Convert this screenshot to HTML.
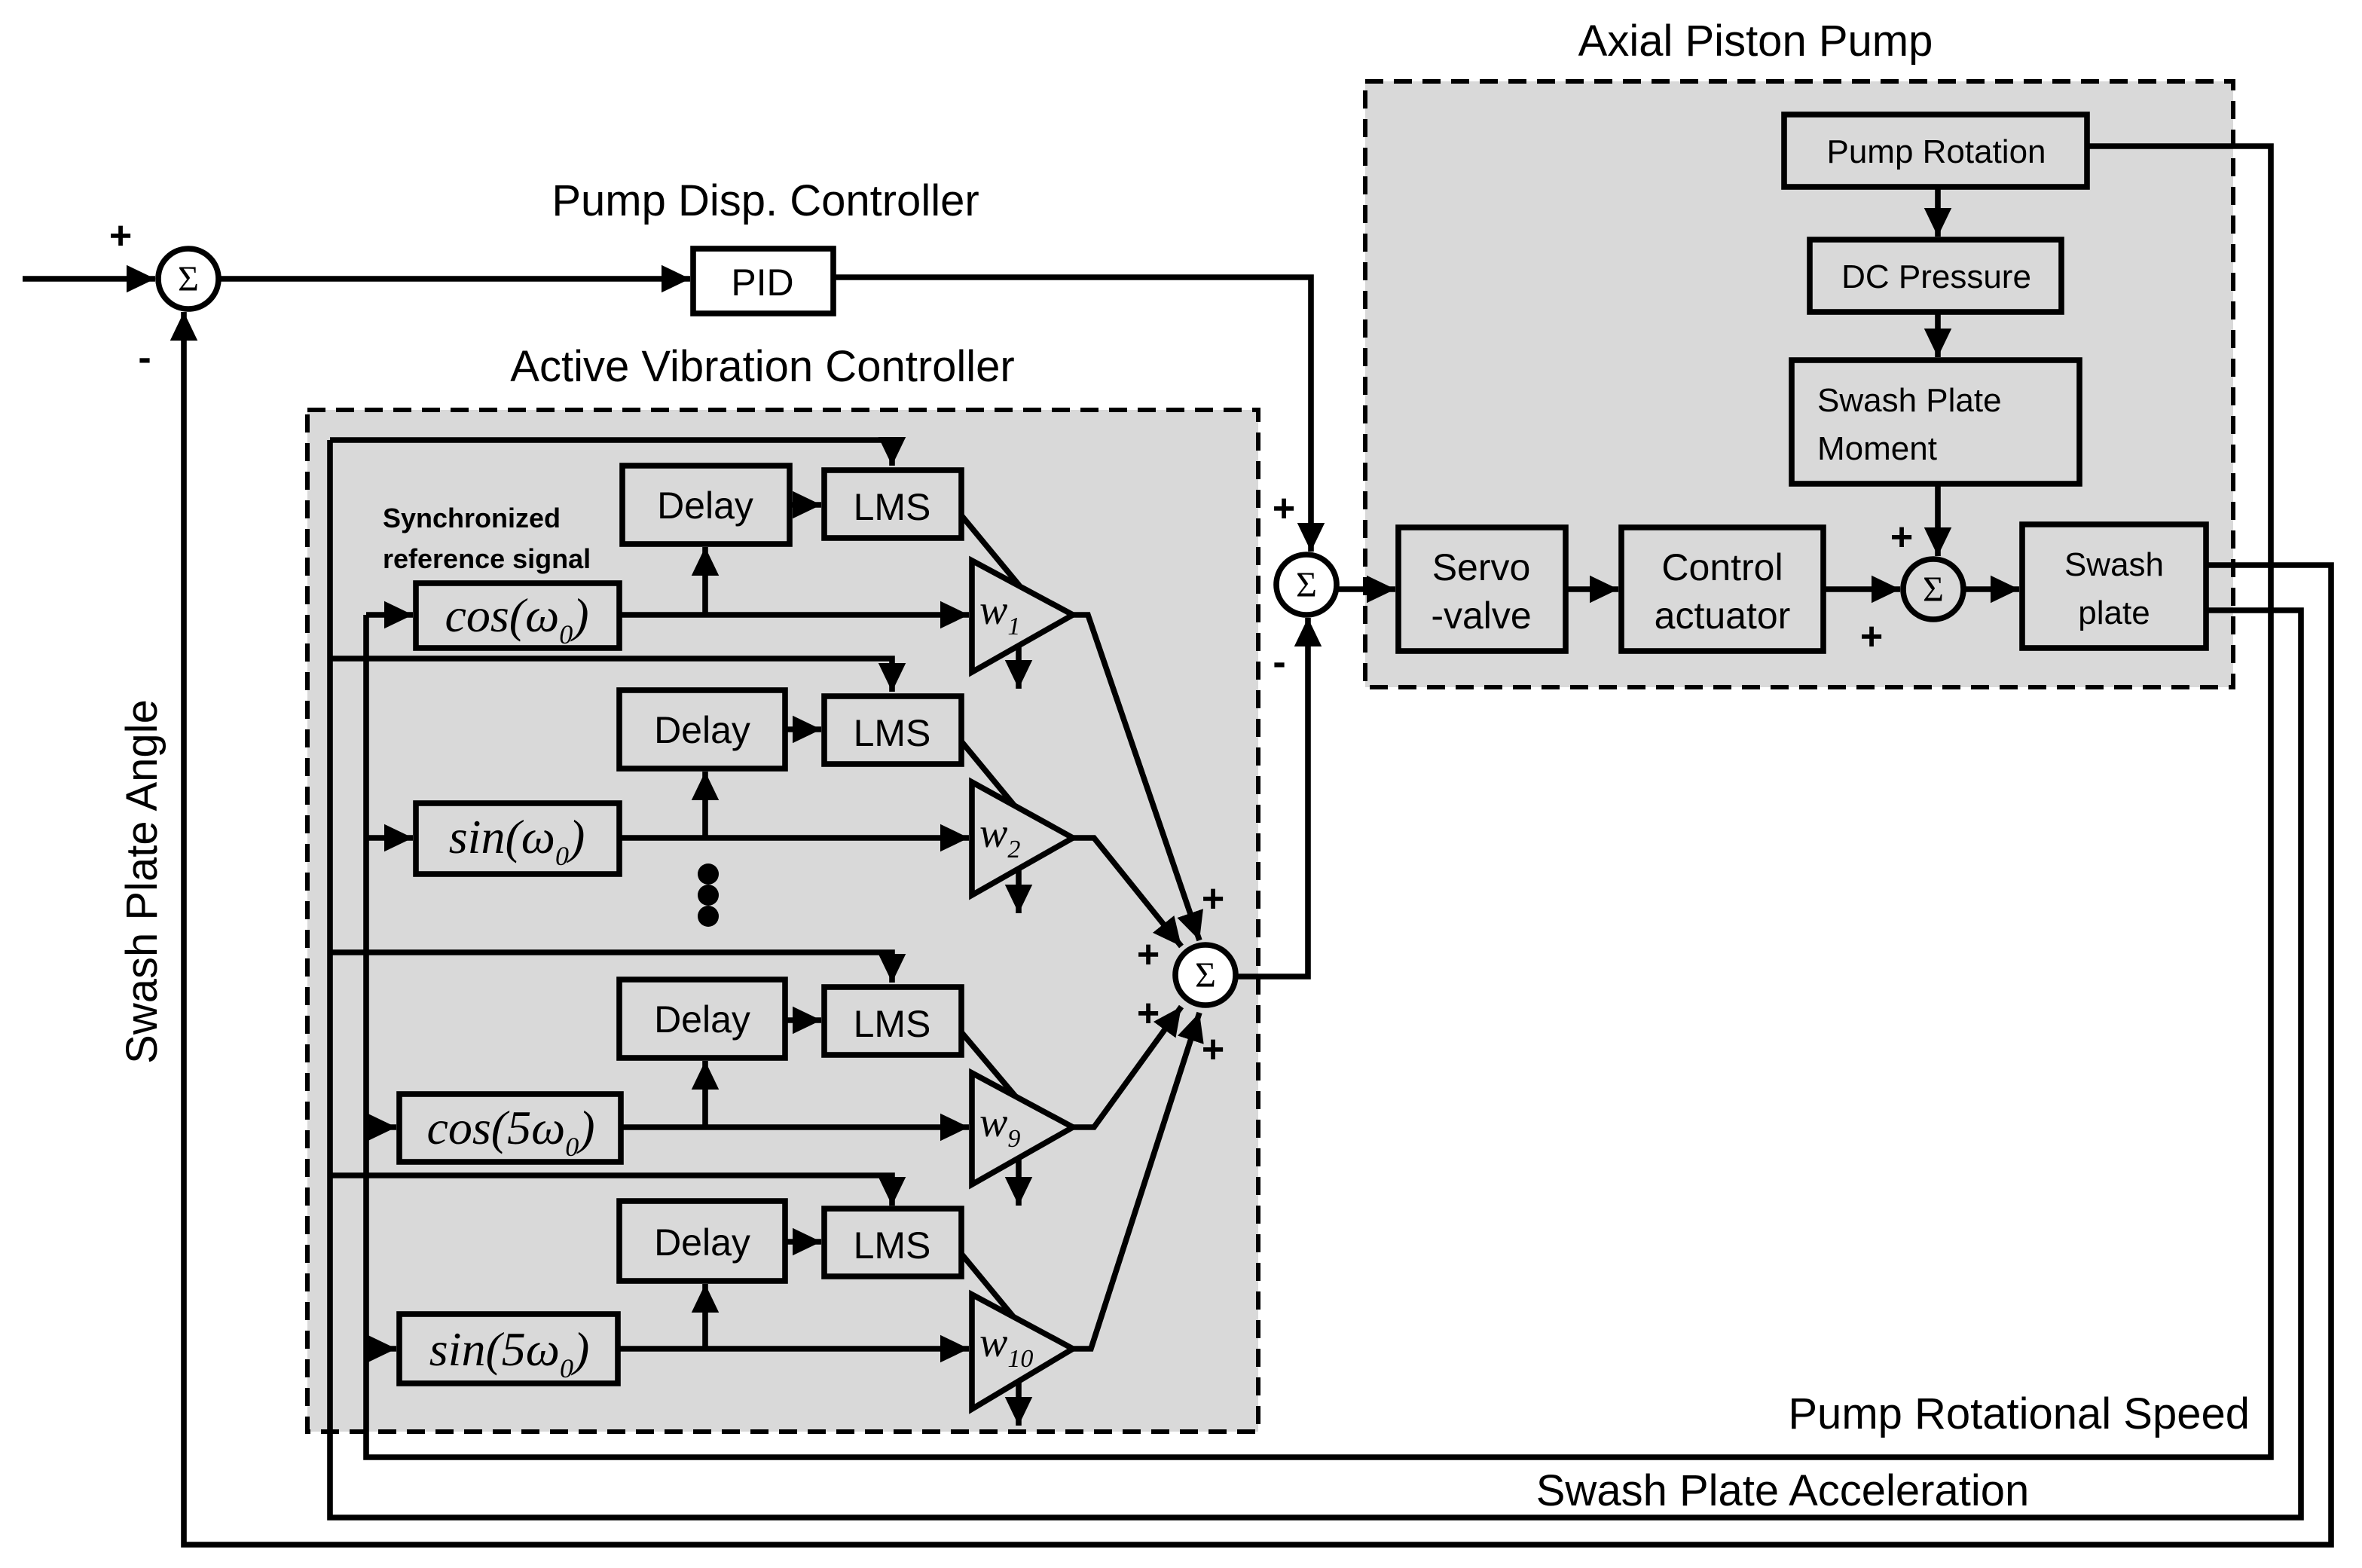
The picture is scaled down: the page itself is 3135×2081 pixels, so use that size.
<!DOCTYPE html>
<html><head><meta charset="utf-8"><style>
html,body{margin:0;padding:0;background:#fff;}
svg{display:block;}
text{font-family:"Liberation Sans",sans-serif;fill:#000;}
.m text,.m tspan{font-family:"Liberation Serif",serif;font-style:italic;}
.s text{font-family:"Liberation Serif",serif;}
</style></head><body>
<svg width="3135" height="2081" viewBox="0 0 1567.5 1040.5" xmlns="http://www.w3.org/2000/svg">
<defs>
<marker id="a" markerWidth="6" markerHeight="6" refX="5" refY="3" orient="auto" markerUnits="strokeWidth">
<path d="M0,0.6 L5,3 L0,5.4 Z" fill="#000"/></marker>
</defs>
<rect x="204" y="272" width="631" height="678" fill="#d9d9d9" stroke="#000" stroke-width="3" stroke-dasharray="12,7"/>
<rect x="906" y="54" width="576" height="402" fill="#d9d9d9" stroke="#000" stroke-width="3" stroke-dasharray="12,7"/>
<g fill="none" stroke="#000" stroke-width="3.8">
<line x1="15" y1="185" x2="103" y2="185" marker-end="url(#a)"/>
<line x1="146" y1="185" x2="458" y2="185" marker-end="url(#a)"/>
<polyline points="553,184 870,184 870,366" marker-end="url(#a)"/>
<line x1="888" y1="391" x2="926" y2="391" marker-end="url(#a)"/>
<line x1="1040" y1="391" x2="1074" y2="391" marker-end="url(#a)"/>
<line x1="1211" y1="391" x2="1261" y2="391" marker-end="url(#a)"/>
<line x1="1304" y1="391" x2="1340" y2="391" marker-end="url(#a)"/>
<line x1="1286" y1="322" x2="1286" y2="369" marker-end="url(#a)"/>
<line x1="1286" y1="125" x2="1286" y2="157" marker-end="url(#a)"/>
<line x1="1286" y1="208" x2="1286" y2="237" marker-end="url(#a)"/>
<polyline points="1385,97 1507,97 1507,967 243,967 243,408"/>
<polyline points="1464,375 1547,375 1547,1025 122,1025 122,207" marker-end="url(#a)"/>
<polyline points="1464,405 1527,405 1527,1007 219,1007 219,292"/>
<polyline points="219,292 592,292 592,309" marker-end="url(#a)"/>
<polyline points="219,437 592,437 592,459" marker-end="url(#a)"/>
<polyline points="219,632 592,632 592,652" marker-end="url(#a)"/>
<polyline points="219,780 592,780 592,800" marker-end="url(#a)"/>
<line x1="243" y1="408" x2="274" y2="408" marker-end="url(#a)"/>
<line x1="243" y1="556" x2="274" y2="556" marker-end="url(#a)"/>
<line x1="243" y1="748" x2="263" y2="748" marker-end="url(#a)"/>
<line x1="243" y1="895" x2="263" y2="895" marker-end="url(#a)"/>
<polyline points="821,648 868,648 868,410" marker-end="url(#a)"/>
<line x1="411" y1="408" x2="643" y2="408" marker-end="url(#a)"/>
<line x1="468" y1="408" x2="468" y2="363" marker-end="url(#a)"/>
<line x1="524" y1="335" x2="545" y2="335" marker-end="url(#a)"/>
<polyline points="638,342 676,388 676,457" marker-end="url(#a)"/>
<polyline points="712,408 722,408 796,624" marker-end="url(#a)"/>
<line x1="411" y1="556" x2="643" y2="556" marker-end="url(#a)"/>
<line x1="468" y1="556" x2="468" y2="512" marker-end="url(#a)"/>
<line x1="521" y1="484" x2="545" y2="484" marker-end="url(#a)"/>
<polyline points="638,492 676,538 676,606" marker-end="url(#a)"/>
<polyline points="712,556 726,556 784,628" marker-end="url(#a)"/>
<line x1="412" y1="748" x2="643" y2="748" marker-end="url(#a)"/>
<line x1="468" y1="748" x2="468" y2="704" marker-end="url(#a)"/>
<line x1="521" y1="677" x2="545" y2="677" marker-end="url(#a)"/>
<polyline points="638,685 676,730 676,800" marker-end="url(#a)"/>
<polyline points="712,748 726,748 784,668" marker-end="url(#a)"/>
<line x1="410" y1="895" x2="643" y2="895" marker-end="url(#a)"/>
<line x1="468" y1="895" x2="468" y2="852" marker-end="url(#a)"/>
<line x1="521" y1="824" x2="545" y2="824" marker-end="url(#a)"/>
<polyline points="638,832 676,878 676,946" marker-end="url(#a)"/>
<polyline points="712,895 724,895 796,672" marker-end="url(#a)"/>
</g>
<g fill="#d9d9d9" stroke="#000" stroke-width="3.8">
<rect x="460" y="165" width="93" height="43" fill="#fff"/>
<rect x="1184" y="76" width="201" height="48"/>
<rect x="1201" y="159" width="167" height="48"/>
<rect x="1189" y="239" width="191" height="82"/>
<rect x="928" y="350" width="111" height="82"/>
<rect x="1076" y="350" width="134" height="82"/>
<rect x="1342" y="348" width="122" height="82"/>
<rect x="413" y="309" width="111" height="52"/><rect x="547" y="312" width="91" height="45"/>
<rect x="411" y="458" width="110" height="52"/><rect x="547" y="462" width="91" height="45"/>
<rect x="411" y="650" width="110" height="52"/><rect x="547" y="655" width="91" height="45"/>
<rect x="411" y="797" width="110" height="53"/><rect x="547" y="802" width="91" height="45"/>
<rect x="276" y="387" width="135" height="43"/>
<rect x="276" y="533" width="135" height="47"/>
<rect x="265" y="726" width="147" height="45"/>
<rect x="265" y="872" width="145" height="46"/>
<polygon points="645,372 712,408 645,446"/>
<polygon points="645,519 712,556 645,594"/>
<polygon points="645,712 712,748 645,786"/>
<polygon points="645,859 712,895 645,935"/>
<circle cx="125" cy="185" r="20" fill="#fff"/>
<circle cx="867" cy="388" r="20" fill="#fff"/>
<circle cx="1283" cy="391" r="20"/>
<circle cx="800" cy="647" r="20" fill="#fff"/>
</g>
<circle cx="470" cy="580" r="7"/><circle cx="470" cy="594" r="7"/><circle cx="470" cy="608" r="7"/>
<g class="s" font-size="24" text-anchor="middle">
<text x="125" y="193">Σ</text><text x="867" y="396">Σ</text><text x="1283" y="399">Σ</text><text x="800" y="655">Σ</text>
</g>
<g font-size="29" text-anchor="middle">
<text x="1165" y="37">Axial Piston Pump</text>
<text x="508" y="143">Pump Disp. Controller</text>
<text x="506" y="253">Active Vibration Controller</text>
<text x="1183" y="999">Swash Plate Acceleration</text>
<text x="1493" y="948" text-anchor="end">Pump Rotational Speed</text>
<text transform="translate(104,585) rotate(-90)">Swash Plate Angle</text>
</g>
<g font-size="22" text-anchor="middle">
<text x="1285" y="108">Pump Rotation</text>
<text x="1285" y="191">DC Pressure</text>
<text x="1206" y="273" text-anchor="start">Swash Plate</text>
<text x="1206" y="305" text-anchor="start">Moment</text>
<text x="1403" y="382">Swash</text>
<text x="1403" y="414">plate</text>
</g>
<g font-size="25" text-anchor="middle">
<text x="506" y="196">PID</text>
<text x="983" y="385">Servo</text><text x="983" y="417">-valve</text>
<text x="1143" y="385">Control</text><text x="1143" y="417">actuator</text>
<text x="468" y="344">Delay</text><text x="592" y="345">LMS</text>
<text x="466" y="493">Delay</text><text x="592" y="495">LMS</text>
<text x="466" y="685">Delay</text><text x="592" y="688">LMS</text>
<text x="466" y="833">Delay</text><text x="592" y="835">LMS</text>
</g>
<g font-size="18" font-weight="bold">
<text x="254" y="350">Synchronized</text>
<text x="254" y="377">reference signal</text>
</g>
<g class="m" font-size="32" text-anchor="middle">
<text x="343" y="419">cos(ω<tspan font-size="18" dy="8">0</tspan><tspan dy="-8">)</tspan></text>
<text x="343" y="566">sin(ω<tspan font-size="18" dy="8">0</tspan><tspan dy="-8">)</tspan></text>
<text x="339" y="759">cos(5ω<tspan font-size="18" dy="8">0</tspan><tspan dy="-8">)</tspan></text>
<text x="338" y="906">sin(5ω<tspan font-size="18" dy="8">0</tspan><tspan dy="-8">)</tspan></text>
</g>
<g class="m" font-size="28">
<text x="650" y="414">w<tspan font-size="17" dy="7">1</tspan></text>
<text x="650" y="562">w<tspan font-size="17" dy="7">2</tspan></text>
<text x="650" y="754">w<tspan font-size="17" dy="7">9</tspan></text>
<text x="650" y="900">w<tspan font-size="17" dy="7">10</tspan></text>
</g>
<g font-size="26" font-weight="bold" text-anchor="middle">
<text x="80" y="165">+</text><text x="96" y="246">-</text>
<text x="852" y="346">+</text><text x="849" y="448">-</text>
<text x="1262" y="365">+</text><text x="1242" y="431">+</text>
<text x="805" y="605">+</text><text x="762" y="642">+</text><text x="762" y="681">+</text><text x="805" y="705">+</text>
</g>
</svg>
</body></html>
